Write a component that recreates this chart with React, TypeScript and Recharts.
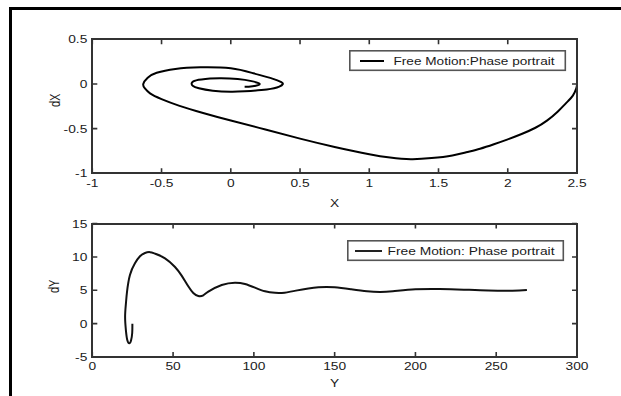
import React from 'react';
import { LineChart, Line, XAxis, YAxis, Legend } from 'recharts';

// ---- Data ----
const TOP_X = [2.5, 2.495, 2.47, 2.43, 2.36, 2.283, 2.2, 2.1, 2.0, 1.9, 1.8, 1.7, 1.6, 1.45, 1.3, 1.15, 1.0, 0.75, 0.5, 0.25, 0.0, -0.2, -0.37, -0.5, -0.583, -0.62, -0.632, -0.6, -0.535, -0.4, -0.22, 0.0, 0.163, 0.3, 0.365, 0.376, 0.35, 0.26, 0.1, 0.0, -0.13, -0.23, -0.275, -0.282, -0.25, -0.15, -0.07, 0.05, 0.15, 0.2, 0.207, 0.18, 0.13, 0.1];
const TOP_DX = [0.0, -0.05, -0.13, -0.2, -0.31, -0.41, -0.49, -0.56, -0.62, -0.675, -0.725, -0.765, -0.8, -0.83, -0.842, -0.824, -0.787, -0.705, -0.612, -0.51, -0.41, -0.325, -0.245, -0.17, -0.105, -0.05, 0.0, 0.07, 0.125, 0.168, 0.186, 0.175, 0.12, 0.06, 0.02, 0.0, -0.03, -0.062, -0.082, -0.087, -0.075, -0.048, -0.02, 0.01, 0.04, 0.06, 0.065, 0.055, 0.032, 0.01, -0.005, -0.02, -0.03, -0.032];

const BOT_Y = [24.8, 24.7, 24.0, 22.9, 21.6, 20.8, 20.3, 20.8, 21.5, 23.3, 26.4, 29.5, 32.6, 35.7, 38.8, 45, 51.2, 55.3, 59.4, 62.5, 65.6, 68.7, 71.8, 80.1, 88.3, 94.5, 100.7, 106.9, 113.1, 119, 126, 140, 150, 160, 170, 178, 186, 200, 215, 230, 245, 260, 269];
const BOT_DY = [0.0, -1.4, -2.5, -2.95, -2.4, -1.0, 1.0, 3.0, 4.8, 7.3, 9.05, 10.1, 10.6, 10.72, 10.5, 9.8, 8.5, 7.2, 5.6, 4.6, 4.15, 4.25, 4.8, 5.8, 6.15, 5.95, 5.4, 4.85, 4.62, 4.65, 4.95, 5.45, 5.45, 5.15, 4.85, 4.75, 4.85, 5.15, 5.2, 5.1, 4.98, 4.95, 5.05];

const TOP_X_TICKS = [-1, -0.5, 0, 0.5, 1, 1.5, 2, 2.5];
const TOP_Y_TICKS = [-1, -0.5, 0, 0.5];
const BOT_X_TICKS = [0, 50, 100, 150, 200, 250, 300];
const BOT_Y_TICKS = [-5, 0, 5, 10, 15];

const TOP_LEGEND = 'Free Motion:Phase portrait';
const BOT_LEGEND = 'Free Motion: Phase portrait';

const topData = TOP_X.map((x, i) => ({ x, v: TOP_DX[i] }));
const botData = BOT_Y.map((x, i) => ({ x, v: BOT_DY[i] }));

// ---- Styles ----
const AXIS = '#333';
const TEXT = '#1a1a1a';
const FONT = '"Liberation Sans", Arial, Helvetica, sans-serif';
const FS = 11;
const SX = 1.25;
const AXW = 1.6;

const stretch = (x: number) => `translate(${x} 0) scale(${SX} 1) translate(${-x} 0)`;

const makeXTick = (plotH: number) => (props: any) => {
  const { x, y, payload } = props;
  return (
    <g>
      <path d={`M${x},${y}V${y - 5}M${x},${y - plotH}V${y - plotH + 5}`} stroke={AXIS} strokeWidth={AXW} fill="none" />
      <text x={x} y={y + 13.5} textAnchor="middle" fill={TEXT} fontFamily={FONT} fontSize={FS} transform={stretch(x)}>
        {String(payload.value)}
      </text>
    </g>
  );
};

const makeYTick = (plotW: number) => (props: any) => {
  const { x, y, payload } = props;
  return (
    <g>
      <path d={`M${x},${y}H${x + 5}M${x + plotW},${y}H${x + plotW - 5}`} stroke={AXIS} strokeWidth={AXW} fill="none" />
      <text x={x - 5} y={y + 4} textAnchor="end" fill={TEXT} fontFamily={FONT} fontSize={FS} transform={stretch(x - 5)}>
        {String(payload.value)}
      </text>
    </g>
  );
};

const xTitle = (title: string, dy: number) => (props: any) => {
  const vb = props.viewBox || {};
  const cx = vb.x + vb.width / 2;
  const cy = vb.y + dy;
  return (
    <text x={cx} y={cy} textAnchor="middle" fill={TEXT} fontFamily={FONT} fontSize={FS} transform={stretch(cx)}>
      {title}
    </text>
  );
};

const yTitle = (title: string, cxAbs: number, dyc: number) => (props: any) => {
  const vb = props.viewBox || {};
  const cy = vb.y + vb.height / 2 + dyc;
  return (
    <text
      x={0}
      y={0}
      textAnchor="middle"
      fill={TEXT}
      fontFamily={FONT}
      fontSize={FS}
      transform={`translate(${cxAbs + 4} ${cy}) rotate(-90) scale(1 ${SX})`}
    >
      {title}
    </text>
  );
};

const legendBox = (label: string, lineStart: number, lineEnd: number, textStart: number, textLen: number, stroke: string) => () => (
  <svg width={218} height={22} style={{ display: 'block' }}>
    <rect x={0.8} y={0.8} width={215.5} height={19.5} fill="#fff" stroke="#555" strokeWidth={AXW} />
    <line x1={lineStart} y1={11} x2={lineEnd} y2={11} stroke={stroke} strokeWidth={2} />
    <text
      x={textStart}
      y={15}
      fill={TEXT}
      fontFamily={FONT}
      fontSize={FS}
      textLength={textLen}
      lengthAdjust="spacingAndGlyphs"
    >
      {label}
    </text>
  </svg>
);

const frameBox = (top: number, height: number) => ({
  position: 'absolute' as const,
  left: 91,
  top: top,
  width: 483,
  height: height - 4,
  border: `2px solid ${AXIS}`,
  zIndex: 5,
});

export default function App() {
  const W = 621;
  const topH = 215;
  const topMargin = { top: 39.3, right: 44, bottom: 0, left: 0 };
  const topXAxisH = 41.7;
  const yAxisW = 92.3;
  const plotW = W - topMargin.right - yAxisW;
  const topPlotH = topH - topMargin.top - topXAxisH;
  const botH = 196;
  const botTop = 200;
  const botMargin = { top: 23.6, right: 44, bottom: 0, left: 0 };
  const botXAxisH = 39;
  const botPlotH = botH - botMargin.top - botXAxisH;

  return (
    <div style={{ position: 'absolute', left: 0, top: 0, width: W, height: 396, background: '#fff', overflow: 'hidden' }}>
      <div style={{ position: 'absolute', left: 9, top: 7, width: 640, height: 420, borderLeft: '3px solid #000', borderTop: '3px solid #000' }} />
      <div style={{ position: 'absolute', left: 0, top: 0 }}>
        <LineChart width={W} height={topH} data={topData} margin={topMargin}>
          <XAxis
            type="number"
            dataKey="x"
            domain={[-1, 2.5]}
            ticks={TOP_X_TICKS}
            interval={0}
            height={topXAxisH}
            axisLine={false}
            tickLine={false}
            tickSize={0}
            tickMargin={0}
            tick={makeXTick(topPlotH)}
            allowDataOverflow
            label={xTitle('X', 34)}
          />
          <YAxis
            type="number"
            domain={[-1, 0.5]}
            ticks={TOP_Y_TICKS}
            interval={0}
            width={yAxisW}
            axisLine={false}
            tickLine={false}
            tickSize={0}
            tickMargin={0}
            tick={makeYTick(plotW)}
            allowDataOverflow
            label={yTitle('dX', 56, -6)}
          />
          <Legend
            verticalAlign="middle"
            align="center"
            layout="horizontal"
            wrapperStyle={{ left: 349, top: 50, width: 218, height: 22 }}
            content={legendBox(TOP_LEGEND, 11, 35, 44.5, 161, '#000')}
          />
          <Line
            type="natural"
            dataKey="v"
            name={TOP_LEGEND}
            stroke="#000"
            strokeWidth={2}
            dot={false}
            activeDot={false}
            isAnimationActive={false}
          />
        </LineChart>
      </div>
      <div style={frameBox(38, 136)} />
      <div style={{ position: 'absolute', left: 0, top: botTop }}>
        <LineChart width={W} height={botH} data={botData} margin={botMargin}>
          <XAxis
            type="number"
            dataKey="x"
            domain={[0, 300]}
            ticks={BOT_X_TICKS}
            interval={0}
            height={botXAxisH}
            axisLine={false}
            tickLine={false}
            tickSize={0}
            tickMargin={0}
            tick={makeXTick(botPlotH)}
            allowDataOverflow
            label={xTitle('Y', 30)}
          />
          <YAxis
            type="number"
            domain={[-5, 15]}
            ticks={BOT_Y_TICKS}
            interval={0}
            width={yAxisW}
            axisLine={false}
            tickLine={false}
            tickSize={0}
            tickMargin={0}
            tick={makeYTick(plotW)}
            allowDataOverflow
            label={yTitle('dY', 55, -4)}
          />
          <Legend
            verticalAlign="middle"
            align="center"
            layout="horizontal"
            wrapperStyle={{ left: 347, top: 40, width: 218, height: 22 }}
            content={legendBox(BOT_LEGEND, 8, 35, 40.5, 167, '#222')}
          />
          <Line
            type="natural"
            dataKey="v"
            name={BOT_LEGEND}
            stroke="#111"
            strokeWidth={2}
            dot={false}
            activeDot={false}
            isAnimationActive={false}
          />
        </LineChart>
      </div>
      <div style={frameBox(223, 135)} />
    </div>
  );
}
